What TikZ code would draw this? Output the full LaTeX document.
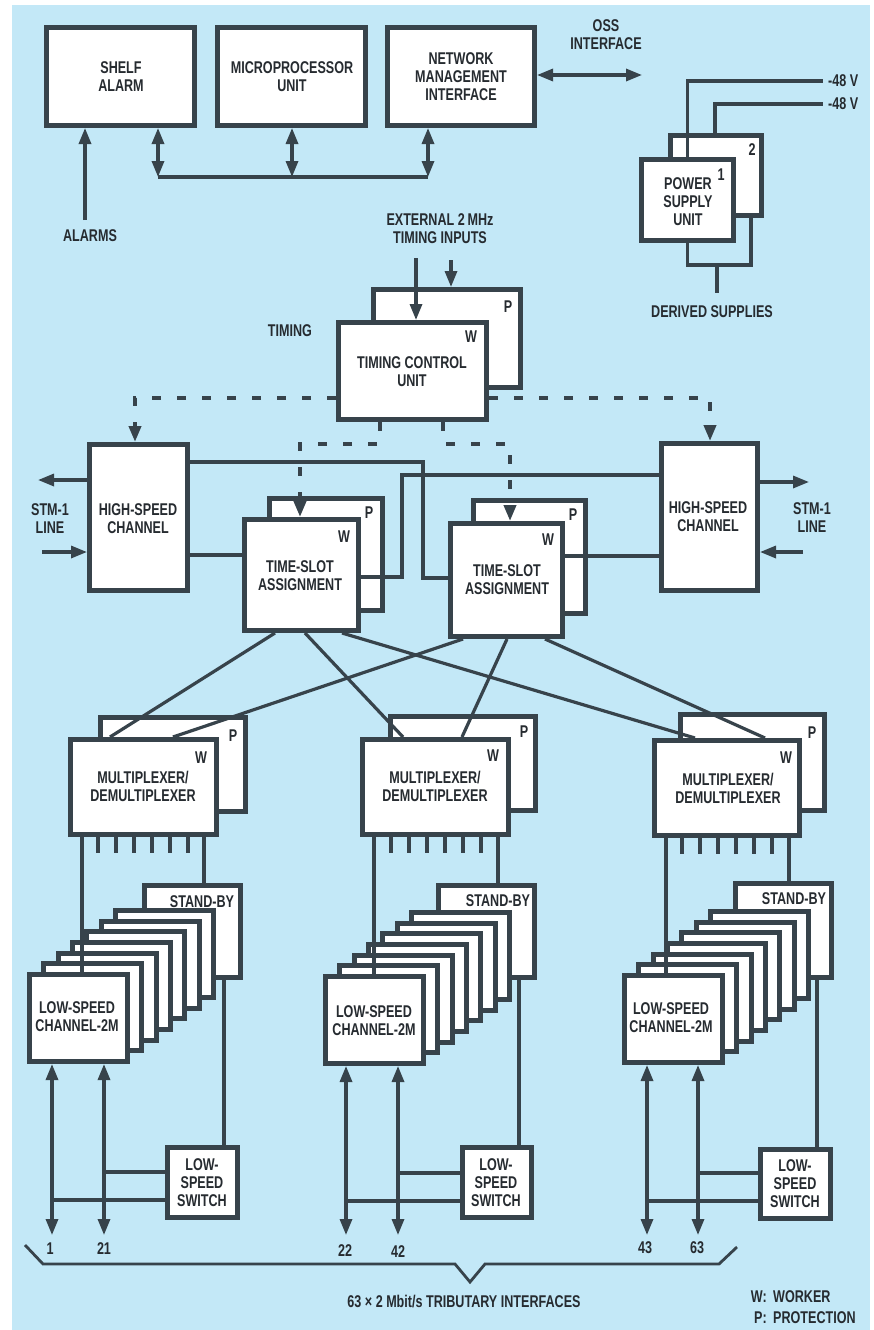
\documentclass[tikz,border=0pt]{standalone}
\usepackage{fontspec}
\setmainfont{Liberation Sans}[FakeStretch=0.74]
\usetikzlibrary{arrows.meta}
\definecolor{paper}{HTML}{C3E8F7}
\definecolor{ink}{HTML}{37434B}
\definecolor{lettering}{HTML}{262B30}

% block given by its outer edges: name, x1, y1, x2, y2
\newcommand\blk[5]{%
  \node[box, minimum width={#4-#2-5}, minimum height={#5-#3-5}] (#1)
    at ({(#2+#4)/2},{(#3+#5)/2}) {};}
% stack of seven low-speed channel cards: name prefix, front x, front y
\newcommand\cardstack[3]{%
  \foreach \k in {6,5,...,0}{%
    \node[box, minimum width=98, minimum height=87] (#1\k)
      at ({#2+51.5+14.3*\k},{#3+46-10.7*\k}) {};}}

\begin{document}
\begin{tikzpicture}[x=1pt,y=-1pt,
  box/.style={draw=ink, line width=5pt, fill=white, inner sep=0pt},
  conn/.style={draw=ink, line width=3.2pt},
  tick/.style={draw=ink, line width=3.2pt},
  dsh/.style={draw=ink, line width=3.8pt, dash pattern=on 9pt off 16pt},
  arr/.style={-{Triangle[length=16pt,width=12pt]}},
  dbl/.style={{Triangle[length=16pt,width=12pt]}-{Triangle[length=16pt,width=12pt]}},
  lbl/.style={font=\fontsize{17}{18}\selectfont\bfseries, text=lettering,
              align=center, inner sep=0pt}]

% page and tinted panel
\fill[white] (0,0) rectangle (874,1330);
\fill[paper] (12,5) rectangle (870,1330);
\useasboundingbox (0,0) rectangle (874,1330);

% ---------- blocks ----------
\blk{sa}{44}{25}{197}{128}
\blk{mpu}{215}{25}{368}{128}
\blk{nmi}{385}{25}{537}{128}
\blk{psb}{668}{133}{764}{218}
\blk{psa}{639}{157}{736}{243}
\blk{tcup}{371}{287}{523}{390}
\blk{tcuw}{336}{320}{489}{422}
\blk{hsl}{87}{442}{190}{593}
\blk{hsr}{659}{441}{760}{593}
\blk{tslp}{267}{496}{385}{613}
\blk{tslw}{242}{517}{361}{633}
\blk{tsrp}{471}{498}{588}{616}
\blk{tsrw}{448}{521}{565}{639}
\blk{mxlp}{98}{715}{248}{814}
\blk{mxlw}{68}{737}{219}{837}
\blk{mxmp}{388}{714}{538}{813}
\blk{mxmw}{360}{737}{511}{837}
\blk{mxrp}{678}{712}{827}{813}
\blk{mxrw}{652}{738}{802}{838}
\blk{sbl}{142}{883}{243}{980}
\blk{sbm}{436}{883}{537}{980}
\blk{sbr}{733}{881}{834}{980}
\cardstack{lsl}{27}{972}
\cardstack{lsm}{323}{974}
\cardstack{lsr}{622}{973}
\blk{swl}{165}{1145}{240}{1220}
\blk{swm}{460}{1145}{534}{1220}
\blk{swr}{758}{1147}{833}{1221}

% ---------- control bus ----------
\coordinate (b1) at (158,177);
\coordinate (b2) at (292,177);
\coordinate (b3) at (428,177);
\draw[conn] (b1) -- (b3);
\draw[conn,dbl] (b1) -- (b1 |- sa.south);
\draw[conn,dbl] (b2) -- (b2 |- mpu.south);
\draw[conn,dbl] (b3) -- (b3 |- nmi.south);
\coordinate (al) at (85,220);
\draw[conn,arr] (al) -- (al |- sa.south);
\coordinate (oss) at (642,75);
\draw[conn,dbl] (oss -| nmi.east) -- (oss);

% ---------- power ----------
\coordinate (v1) at (823,81);
\coordinate (v2) at (823,104);
\draw[conn] (psa.north) -- (psa.north |- v1) -- (v1);
\draw[conn] (715,0 |- psb.north) -- (715,104) -- (v2);
\coordinate (ds) at (717,293);
\draw[conn] (psa.south) -- (687.5,265) -- (751,265) -- (751,0 |- psb.south);
\draw[conn] (717,265) -- (ds);

% ---------- timing ----------
\coordinate (ti1) at (416,258);
\coordinate (ti2) at (451,260);
\draw[conn,arr] (ti1) -- (ti1 |- tcuw.north);
\draw[conn,arr] (ti2) -- (ti2 |- tcup.north);
\draw[dsh,arr] (tcuw.west |- 0,398) -- (135,398) -- (135,0 |- hsl.north);
\draw[dsh,arr] (tcuw.east |- 0,398) -- (710,398) -- (710,0 |- hsr.north);
\draw[dsh,arr] (380,0 |- tcuw.south) -- (380,444) -- (300,444) -- (300,0 |- tslw.north);
\draw[dsh,arr] (443,0 |- tcuw.south) -- (443,444) -- (510,444) -- (510,0 |- tsrw.north);

% ---------- STM-1 lines ----------
\coordinate (sl1) at (38,480);
\coordinate (sl2) at (42,552);
\coordinate (sr1) at (809,482);
\coordinate (sr2) at (803,552);
\draw[conn,arr] (hsl.west |- sl1) -- (sl1);
\draw[conn,arr] (sl2) -- (hsl.west |- sl2);
\draw[conn,arr] (hsr.east |- sr1) -- (sr1);
\draw[conn,arr] (sr2) -- (hsr.east |- sr2);

% ---------- high-speed channels to time-slot assignment ----------
\draw[conn] (hsl.east |- 0,555) -- (tslw.west |- 0,555);
\draw[conn] (hsl.east |- 0,462) -- (423,462) -- (423,578) -- (tsrw.west |- 0,578);
\draw[conn] (tslw.east |- 0,577) -- (402,577) -- (402,475) -- (hsr.west |- 0,475);
\draw[conn] (tsrw.east |- 0,556) -- (hsr.west |- 0,556);

% ---------- time-slot assignment to multiplexers ----------
\draw[conn] (275,0 |- tslw.south) -- (110,0 |- mxlw.north);
\draw[conn] (305,0 |- tslw.south) -- (403,0 |- mxmw.north);
\draw[conn] (342,0 |- tslw.south) -- (695,0 |- mxrw.north);
\draw[conn] (463,0 |- tsrw.south) -- (173,0 |- mxlw.north);
\draw[conn] (507,0 |- tsrw.south) -- (462,0 |- mxmw.north);
\draw[conn] (545,0 |- tsrw.south) -- (765,0 |- mxrw.north);

% ---------- multiplexer outputs ----------
\foreach \x in {98,116,...,188} \draw[tick] (\x,0 |- mxlw.south) -- ++(0,16);
\foreach \x in {391,409,...,481} \draw[tick] (\x,0 |- mxmw.south) -- ++(0,16);
\foreach \x in {682,700,...,772} \draw[tick] (\x,0 |- mxrw.south) -- ++(0,16);

% left column
\draw[conn] (82,0 |- mxlw.south) -- (82,0 |- lsl0.north);
\draw[conn] (204,0 |- mxlw.south) -- (204,0 |- sbl.north);
\draw[conn] (224,0 |- sbl.south) -- (224,0 |- swl.north);
\coordinate (t1) at (52,1235);
\coordinate (t21) at (104,1235);
\draw[conn,dbl] (t1 |- lsl0.south) -- (t1);
\draw[conn,dbl] (t21 |- lsl0.south) -- (t21);
\draw[conn] (104,1172) -- (swl.west |- 0,1172);
\draw[conn] (52,1200) -- (swl.west |- 0,1200);

% middle column
\draw[conn] (374,0 |- mxmw.south) -- (374,0 |- lsm0.north);
\draw[conn] (498,0 |- mxmw.south) -- (498,0 |- sbm.north);
\draw[conn] (519,0 |- sbm.south) -- (519,0 |- swm.north);
\coordinate (t22) at (346,1235);
\coordinate (t42) at (398,1235);
\draw[conn,dbl] (t22 |- lsm0.south) -- (t22);
\draw[conn,dbl] (t42 |- lsm0.south) -- (t42);
\draw[conn] (398,1173) -- (swm.west |- 0,1173);
\draw[conn] (346,1201) -- (swm.west |- 0,1201);

% right column
\draw[conn] (666,0 |- mxrw.south) -- (666,0 |- lsr0.north);
\draw[conn] (789,0 |- mxrw.south) -- (789,0 |- sbr.north);
\draw[conn] (817,0 |- sbr.south) -- (817,0 |- swr.north);
\coordinate (t43) at (647,1235);
\coordinate (t63) at (698,1235);
\draw[conn,dbl] (t43 |- lsr0.south) -- (t43);
\draw[conn,dbl] (t63 |- lsr0.south) -- (t63);
\draw[conn] (698,1173) -- (swr.west |- 0,1173);
\draw[conn] (647,1201) -- (swr.west |- 0,1201);

% tributary brace
\draw[conn, line width=2.8pt, line join=miter]
  (25,1245) -- (43,1264) -- (455,1264) -- (470,1282) -- (485,1264)
  -- (719,1264) -- (737,1247);

% ---------- lettering ----------
\node[lbl] (tsa1) at (121,77) {SHELF\\ALARM};
\node[lbl] (tmp) at (292,77) {MICROPROCESSOR\\UNIT};
\node[lbl] (tnm) at (461,77) {NETWORK\\MANAGEMENT\\INTERFACE};
\node[lbl] (talm) at (90,236) {ALARMS};
\node[lbl] (toss) at (606,35) {OSS\\INTERFACE};
\node[lbl, anchor=west] (tv1) at (828,81) {-48 V};
\node[lbl, anchor=west] (tv2) at (828,104) {-48 V};
\node[lbl] (tps) at (688,202) {POWER\\SUPPLY\\UNIT};
\node[lbl] (tps1) at (721,175) {1};
\node[lbl] (tps2) at (752,150) {2};
\node[lbl] (tds) at (712,312) {DERIVED SUPPLIES};
\node[lbl] (text) at (440,229) {EXTERNAL 2\,MHz\\TIMING INPUTS};
\node[lbl] (ttim) at (290,331) {TIMING};
\node[lbl] (ttcu) at (412,372) {TIMING CONTROL\\UNIT};
\node[lbl] (ttcup) at (508,307) {P};
\node[lbl] (ttcuw) at (471,337) {W};
\node[lbl] (thsl) at (138,519) {HIGH-SPEED\\CHANNEL};
\node[lbl] (tstl) at (50,519) {STM-1\\LINE};
\node[lbl] (thsr) at (708,517) {HIGH-SPEED\\CHANNEL};
\node[lbl] (tstr) at (812,518) {STM-1\\LINE};
\node[lbl] (ttsl) at (300,576) {TIME-SLOT\\ASSIGNMENT};
\node[lbl] (ttslp) at (369,513) {P};
\node[lbl] (ttslw) at (344,537) {W};
\node[lbl] (ttsr) at (507,580) {TIME-SLOT\\ASSIGNMENT};
\node[lbl] (ttsrp) at (573,515) {P};
\node[lbl] (ttsrw) at (548,540) {W};
\node[lbl] (tmxl) at (143,786) {MULTIPLEXER/\\DEMULTIPLEXER};
\node[lbl] (tmxlp) at (233,736) {P};
\node[lbl] (tmxlw) at (201,758) {W};
\node[lbl] (tmxm) at (435,786) {MULTIPLEXER/\\DEMULTIPLEXER};
\node[lbl] (tmxmp) at (524,732) {P};
\node[lbl] (tmxmw) at (493,756) {W};
\node[lbl] (tmxr) at (728,788) {MULTIPLEXER/\\DEMULTIPLEXER};
\node[lbl] (tmxrp) at (812,733) {P};
\node[lbl] (tmxrw) at (786,758) {W};
\node[lbl] (tsbl) at (202,902) {STAND-BY};
\node[lbl] (tsbm) at (498,901) {STAND-BY};
\node[lbl] (tsbr) at (794,899) {STAND-BY};
\node[lbl] (tlsl) at (77,1017) {LOW-SPEED\\CHANNEL-2M};
\node[lbl] (tlsm) at (374,1021) {LOW-SPEED\\CHANNEL-2M};
\node[lbl] (tlsr) at (671,1018) {LOW-SPEED\\CHANNEL-2M};
\node[lbl] (tswl) at (202,1183) {LOW-\\SPEED\\SWITCH};
\node[lbl] (tswm) at (496,1183) {LOW-\\SPEED\\SWITCH};
\node[lbl] (tswr) at (795,1184) {LOW-\\SPEED\\SWITCH};
\node[lbl] (n1) at (50,1249) {1};
\node[lbl] (n21) at (104,1249) {21};
\node[lbl] (n22) at (345,1251) {22};
\node[lbl] (n42) at (398,1252) {42};
\node[lbl] (n43) at (645,1248) {43};
\node[lbl] (n63) at (697,1248) {63};
\node[lbl] (ttrib) at (464,1301) {63 × 2 Mbit/s TRIBUTARY INTERFACES};
\node[lbl, anchor=east] (kw) at (767,1297) {W:};
\node[lbl, anchor=west] (kwt) at (773,1297) {WORKER};
\node[lbl, anchor=east] (kp) at (767,1318) {P:};
\node[lbl, anchor=west] (kpt) at (773,1318) {PROTECTION};
\end{tikzpicture}
\end{document}
